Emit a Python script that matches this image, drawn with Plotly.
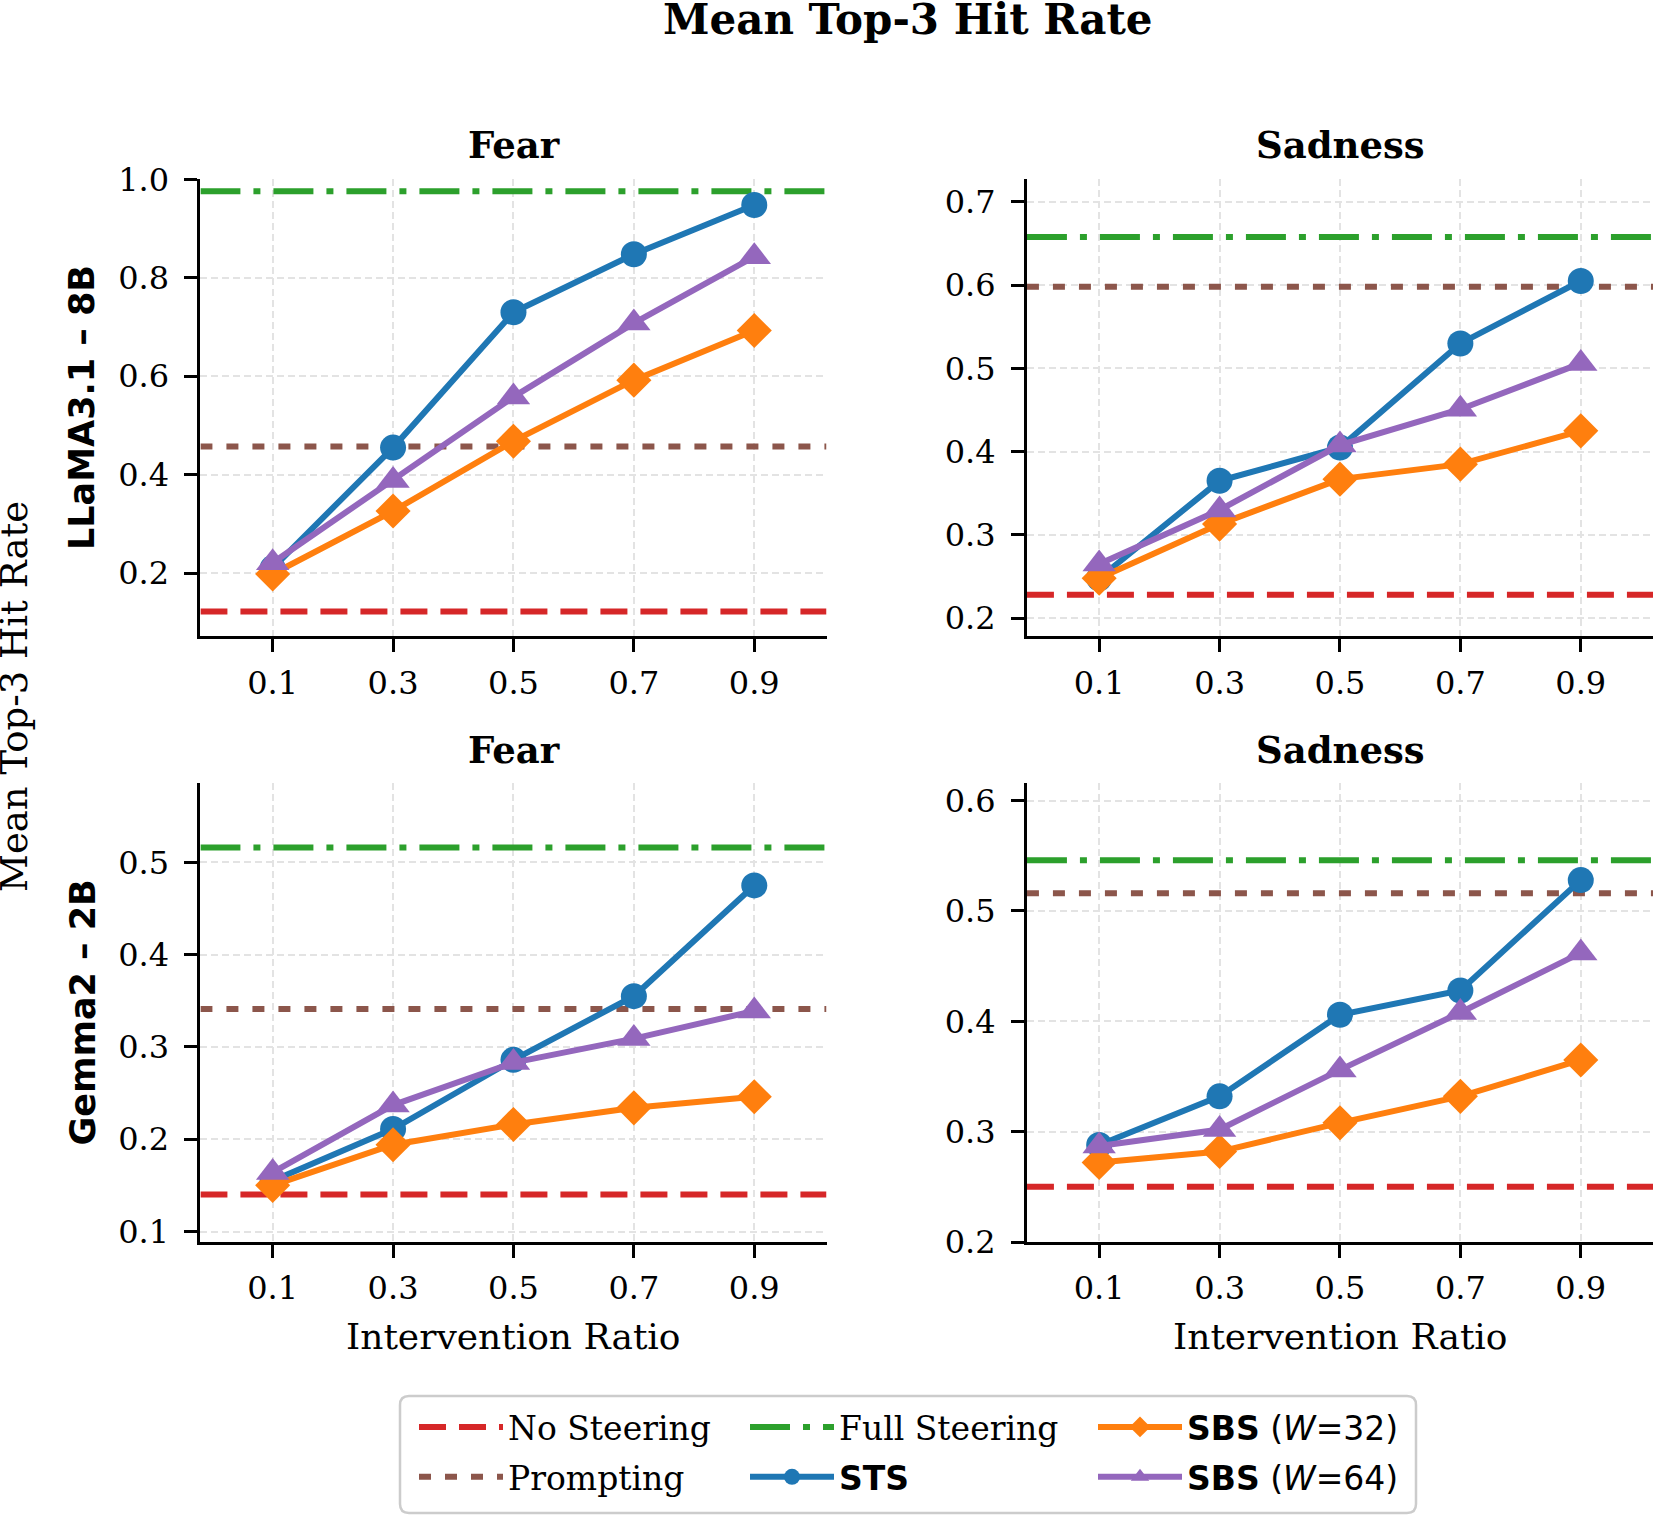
import plotly.graph_objects as go
from plotly.subplots import make_subplots

# ---------------- data ----------------
ratios = [0.1, 0.3, 0.5, 0.7, 0.9]
tick_labels = ["0.1", "0.3", "0.5", "0.7", "0.9"]

models = ["LLaMA3.1 – 8B", "Gemma2 – 2B"]
emotions = ["Fear", "Sadness"]

# LLaMA3.1-8B / Fear
llama_fear_sts = [0.210, 0.455, 0.730, 0.848, 0.948]
llama_fear_sbs32 = [0.198, 0.326, 0.468, 0.592, 0.693]
llama_fear_sbs64 = [0.221, 0.388, 0.558, 0.708, 0.843]
llama_fear_refs = [0.122, 0.457, 0.976]  # no steering, prompting, full steering

# LLaMA3.1-8B / Sadness
llama_sad_sts = [0.248, 0.365, 0.405, 0.530, 0.605]
llama_sad_sbs32 = [0.248, 0.313, 0.367, 0.385, 0.425]
llama_sad_sbs64 = [0.265, 0.330, 0.408, 0.451, 0.506]
llama_sad_refs = [0.228, 0.598, 0.658]

# Gemma2-2B / Fear
gemma_fear_sts = [0.155, 0.211, 0.286, 0.355, 0.475]
gemma_fear_sbs32 = [0.150, 0.194, 0.216, 0.234, 0.246]
gemma_fear_sbs64 = [0.164, 0.237, 0.283, 0.309, 0.339]
gemma_fear_refs = [0.140, 0.341, 0.516]

# Gemma2-2B / Sadness
gemma_sad_sts = [0.288, 0.332, 0.406, 0.428, 0.528]
gemma_sad_sbs32 = [0.272, 0.282, 0.308, 0.332, 0.365]
gemma_sad_sbs64 = [0.287, 0.302, 0.356, 0.408, 0.462]
gemma_sad_refs = [0.250, 0.516, 0.546]

# axis settings
x_range = [-0.02, 1.02]
y_ranges = [[0.071, 1.0], [0.178, 0.727], [0.0886, 0.586], [0.2, 0.616]]
y_ticks = [[0.2, 0.4, 0.6, 0.8, 1.0],
           [0.2, 0.3, 0.4, 0.5, 0.6, 0.7],
           [0.1, 0.2, 0.3, 0.4, 0.5],
           [0.2, 0.3, 0.4, 0.5, 0.6]]

panels = [
    (1, 1, llama_fear_sts, llama_fear_sbs32, llama_fear_sbs64, llama_fear_refs),
    (1, 2, llama_sad_sts, llama_sad_sbs32, llama_sad_sbs64, llama_sad_refs),
    (2, 1, gemma_fear_sts, gemma_fear_sbs32, gemma_fear_sbs64, gemma_fear_refs),
    (2, 2, gemma_sad_sts, gemma_sad_sbs32, gemma_sad_sbs64, gemma_sad_refs),
]

# ---------------- style ----------------
SERIF = "DejaVu Serif"
SANS = "DejaVu Sans"
C_BLUE, C_ORANGE, C_GREEN = "#1f77b4", "#ff7f0e", "#2ca02c"
C_RED, C_PURPLE, C_BROWN = "#d62728", "#9467bd", "#8c564b"

# name, color, dash, legend id, rank within legend
ref_styles = [
    ("No Steering", C_RED, "27px,13px", "legend", 1),
    ("Prompting", C_BROWN, "12px,14px", "legend", 2),
    ("Full Steering", C_GREEN, "40px,13px,7px,13px", "legend2", 1),
]
sts_name = '<span style="font-family:DejaVu Sans"><b>STS</b></span>'
sbs32_name = '<span style="font-family:DejaVu Sans"><b>SBS</b> (<i>W</i>=32)</span>'
sbs64_name = '<span style="font-family:DejaVu Sans"><b>SBS</b> (<i>W</i>=64)</span>'

LW = 6

fig = make_subplots(rows=2, cols=2)

for i, (r, c, sts, s32, s64, refs) in enumerate(panels):
    first = i == 0
    for (name, color, dash, leg, rank), val in zip(ref_styles, refs):
        fig.add_trace(go.Scatter(
            x=x_range, y=[val, val], mode="lines", name=name,
            line=dict(color=color, width=LW, dash=dash),
            legend=leg, legendgroup=name, legendrank=rank,
            showlegend=first, hoverinfo="skip"), row=r, col=c)
    fig.add_trace(go.Scatter(
        x=ratios, y=sts, mode="lines+markers", name=sts_name,
        line=dict(color=C_BLUE, width=LW),
        marker=dict(symbol="circle", size=26, color=C_BLUE),
        legend="legend2", legendgroup="sts", legendrank=2,
        showlegend=first), row=r, col=c)
    fig.add_trace(go.Scatter(
        x=ratios, y=s32, mode="lines+markers", name=sbs32_name,
        line=dict(color=C_ORANGE, width=LW),
        marker=dict(symbol="diamond", size=27, color=C_ORANGE),
        legend="legend3", legendgroup="sbs32", legendrank=1,
        showlegend=first), row=r, col=c)
    fig.add_trace(go.Scatter(
        x=ratios, y=s64, mode="lines+markers", name=sbs64_name,
        line=dict(color=C_PURPLE, width=LW),
        marker=dict(symbol="triangle-up", size=29, color=C_PURPLE),
        legend="legend3", legendgroup="sbs64", legendrank=2,
        showlegend=first), row=r, col=c)

x_domains = {1: [0.1211, 0.4994], 2: [0.6205, 0.9988]}
y_domains = {1: [0.5807, 0.8818], 2: [0.1818, 0.4842]}

axis_common = dict(
    showline=True, linecolor="black", linewidth=3,
    ticks="outside", ticklen=13, tickwidth=2.5, tickcolor="black",
    showgrid=True, gridcolor="#e3e3e3", gridwidth=1.5, griddash="7px,4px",
    zeroline=False, mirror=False, automargin=False,
    tickfont=dict(family=SERIF, size=32, color="black"),
)

for i, (r, c, *_rest) in enumerate(panels):
    fig.update_xaxes(domain=x_domains[c], range=x_range, tickvals=ratios,
                     ticktext=tick_labels, ticklabelstandoff=3,
                     **axis_common, row=r, col=c)
    fig.update_yaxes(domain=y_domains[r], range=y_ranges[i], tickvals=y_ticks[i],
                     ticktext=[f"{v:.1f}" for v in y_ticks[i]],
                     ticklabelstandoff=9, **axis_common, row=r, col=c)

# ---------------- text ----------------
W, H = 1655, 1518
ann = []
ann.append(dict(text="<b>Mean Top-3 Hit Rate</b>", x=908 / W, y=1 - 20 / H,
                xref="paper", yref="paper", showarrow=False,
                xanchor="center", yanchor="middle",
                font=dict(family=SERIF, size=42, color="black")))
title_y = {1: 1 - 145 / H, 2: 1 - 750 / H}
title_x = {1: 513.5 / W, 2: 1340 / W}
for r in (1, 2):
    for c in (1, 2):
        ann.append(dict(text=f"<b>{emotions[c - 1]}</b>", x=title_x[c], y=title_y[r],
                        xref="paper", yref="paper", showarrow=False,
                        xanchor="center", yanchor="middle",
                        font=dict(family=SERIF, size=37, color="black")))
for c in (1, 2):
    ann.append(dict(text="Intervention Ratio", x=title_x[c], y=1 - 1336 / H,
                    xref="paper", yref="paper", showarrow=False,
                    xanchor="center", yanchor="middle",
                    font=dict(family=SERIF, size=36, color="black")))
row_y = {1: 1 - 408 / H, 2: 1 - 1012.5 / H}
for r in (1, 2):
    ann.append(dict(text=f"<b>{models[r - 1]}</b>", x=82 / W, y=row_y[r],
                    xref="paper", yref="paper", showarrow=False, textangle=-90,
                    xanchor="center", yanchor="middle",
                    font=dict(family=SANS, size=35, color="black")))
ann.append(dict(text="Mean Top-3 Hit Rate", x=15 / W, y=1 - 697 / H,
                xref="paper", yref="paper", showarrow=False, textangle=-90,
                xanchor="center", yanchor="middle",
                font=dict(family=SERIF, size=37, color="black")))

# legend frame (rounded rectangle in paper coords)
bx0, bx1, by0, by1, rad = 400, 1416, 1396, 1513, 9
def px(v):
    return v / W
def py(v):
    return 1 - v / H
frame = (f"M{px(bx0 + rad)},{py(by0)} L{px(bx1 - rad)},{py(by0)} "
         f"Q{px(bx1)},{py(by0)} {px(bx1)},{py(by0 + rad)} "
         f"L{px(bx1)},{py(by1 - rad)} Q{px(bx1)},{py(by1)} {px(bx1 - rad)},{py(by1)} "
         f"L{px(bx0 + rad)},{py(by1)} Q{px(bx0)},{py(by1)} {px(bx0)},{py(by1 - rad)} "
         f"L{px(bx0)},{py(by0 + rad)} Q{px(bx0)},{py(by0)} {px(bx0 + rad)},{py(by0)} Z")

legend_common = dict(
    orientation="v", xanchor="left", yanchor="top",
    font=dict(family=SERIF, size=33, color="black"),
    bgcolor="rgba(0,0,0,0)", borderwidth=0,
    traceorder="grouped", tracegroupgap=4, itemwidth=84,
)

fig.update_layout(
    width=W, height=H,
    margin=dict(l=0, r=0, t=0, b=0, autoexpand=False),
    paper_bgcolor="white", plot_bgcolor="white",
    font=dict(family=SERIF, color="black"),
    annotations=ann,
    shapes=[dict(type="path", path=frame, xref="paper", yref="paper",
                 line=dict(color="#cccccc", width=2.5), fillcolor="white",
                 layer="below")],
    legend=dict(x=414 / W, y=1 - 1399 / H, **legend_common),
    legend2=dict(x=745 / W, y=1 - 1399 / H, **legend_common),
    legend3=dict(x=1093 / W, y=1 - 1399 / H, **legend_common),
)

fig.write_html("out.html")
